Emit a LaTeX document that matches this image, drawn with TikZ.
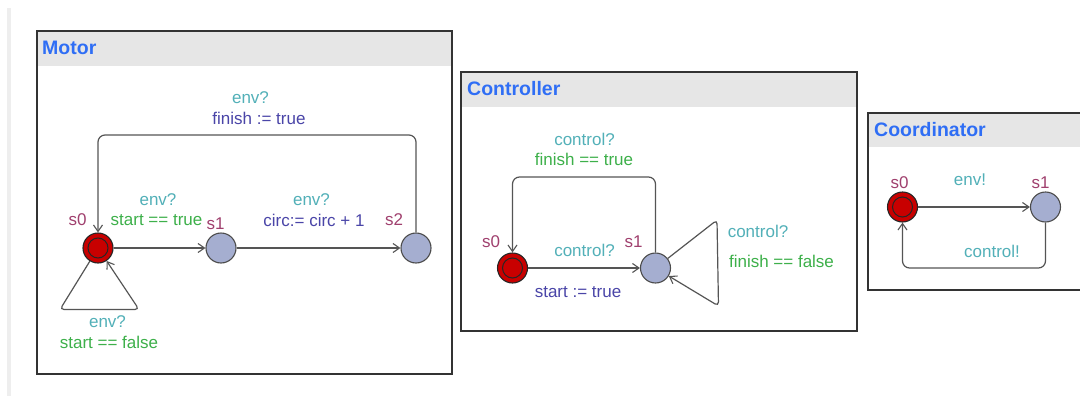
\documentclass[tikz,border=0pt]{standalone}
\usepackage{fontspec}
\setmainfont{Liberation Sans}
\usetikzlibrary{arrows.meta}
\definecolor{chan}{HTML}{52B0B8}
\definecolor{guard}{HTML}{3DB04A}
\definecolor{upd}{HTML}{4A45A8}
\definecolor{locname}{HTML}{A0406E}
\definecolor{titleblue}{HTML}{2F6EF5}
\definecolor{hdr}{HTML}{E6E6E6}
\definecolor{initred}{HTML}{C80000}
\definecolor{statefill}{HTML}{A5AED0}
\definecolor{edgegray}{HTML}{555555}
\definecolor{strip}{HTML}{EEEEEE}
\tikzset{
  lbl/.style={inner sep=0pt, font=\fontsize{17}{19}\selectfont},
  chanlbl/.style={lbl, text=chan},
  guardlbl/.style={lbl, text=guard},
  updlbl/.style={lbl, text=upd},
  namelbl/.style={lbl, text=locname},
  titlelbl/.style={inner sep=0pt, anchor=west, text=titleblue, font=\fontsize{19.5}{21}\selectfont\bfseries},
  state/.style={circle, draw=black!70, fill=statefill, minimum size=30pt, inner sep=0pt, line width=1.1pt},
  initstate/.style={state, fill=initred, draw=black!85,
     path picture={\draw[black!85, line width=1pt] (path picture bounding box.center) circle (10pt);}},
  trans/.style={draw=edgegray, line width=1.2pt, rounded corners=7pt, -{Straight Barb[length=6.5pt,width=9pt,line width=1.1pt]}},
  loopline/.style={draw=edgegray, line width=1.2pt, rounded corners=4pt, -{Straight Barb[length=6.5pt,width=9pt,line width=1.1pt]}},
  boxline/.style={draw=black!80, line width=1.8pt},
  header/.style={fill=hdr}
}
\begin{document}
\begin{tikzpicture}[x=1pt,y=-1pt]
\useasboundingbox (0,0) rectangle (1080,399);
\clip (0,0) rectangle (1080,399);
\fill[white] (0,0) rectangle (1080,399);
\fill[strip] (7,8) rectangle (11,396);

% ===== Motor =====
\fill[header] (37,31) rectangle (452,66);
\draw[boxline] (37,31) rectangle (452,374);
\node[titlelbl] (tmotor) at (42,48) {Motor};

\node[initstate] (ms0) at (98,248) {};
\node[state] (ms1) at (221,248) {};
\node[state] (ms2) at (416,248) {};
\node[namelbl] (nms0) at (77.5,220) {s0};
\node[namelbl] (nms1) at (215.5,224) {s1};
\node[namelbl] (nms2) at (394,220) {s2};

\coordinate (mt2) at (416,135);
\coordinate (mt1) at (98,135);
\draw[trans] (ms2) -- (mt2) -- (mt1) -- (ms0);
\node[chanlbl] (lm1) at (250.5,98) {env?};
\node[updlbl] (lm2) at (259,118) {finish := true};

\draw[trans] (ms0) -- (ms1);
\node[chanlbl] (lm3) at (158,199.5) {env?};
\node[guardlbl] (lm4) at (156.5,220) {start == true};

\draw[trans] (ms1) -- (ms2);
\node[chanlbl] (lm5) at (311.5,199.5) {env?};
\node[updlbl] (lm6) at (314,220) {circ:= circ + 1};

\coordinate (ml1) at (60,309.5);
\coordinate (ml2) at (139,309.5);
\draw[loopline] (ms0) -- (ml1) -- (ml2) -- (ms0);
\node[chanlbl] (lm7) at (107.5,322) {env?};
\node[guardlbl] (lm8) at (109,342) {start == false};

% ===== Controller =====
\fill[header] (461,72) rectangle (857,107);
\draw[boxline] (461,72) rectangle (857,331);
\node[titlelbl] (tctrl) at (467,89) {Controller};

\node[initstate] (cs0) at (512.5,268) {};
\node[state] (cs1) at (655.5,268) {};
\node[namelbl] (ncs0) at (491,242) {s0};
\node[namelbl] (ncs1) at (633.5,242) {s1};

\coordinate (ct1) at (655.5,177);
\coordinate (ct0) at (512.5,177);
\draw[trans] (cs1) -- (ct1) -- (ct0) -- (cs0);
\node[chanlbl] (lc1) at (584.5,139) {control?};
\node[guardlbl] (lc2) at (584,159) {finish == true};

\draw[trans] (cs0) -- (cs1);
\node[chanlbl] (lc3) at (584.5,250) {control?};
\node[updlbl] (lc4) at (578,292.5) {start := true};

\coordinate (cl1) at (717,220);
\coordinate (cl2) at (718.5,306);
\draw[loopline] (cs1) -- (cl1) -- (cl2) -- (cs1);
\node[chanlbl] (lc5) at (758,231) {control?};
\node[guardlbl] (lc6) at (781.5,261) {finish == false};

% ===== Coordinator =====
\fill[header] (868,113) rectangle (1095,147);
\draw[boxline] (868,113) rectangle (1095,290);
\node[titlelbl] (tcoord) at (874,130) {Coordinator};

\node[initstate] (ds0) at (902.5,207) {};
\node[state] (ds1) at (1045.5,207) {};
\node[namelbl] (nds0) at (899.5,182.5) {s0};
\node[namelbl] (nds1) at (1040.5,182.5) {s1};

\draw[trans] (ds0) -- (ds1);
\node[chanlbl] (ld1) at (970,180) {env!};

\coordinate (dt1) at (1045.5,268);
\coordinate (dt0) at (902.5,268);
\draw[trans] (ds1) -- (dt1) -- (dt0) -- (ds0);
\node[chanlbl] (ld2) at (992,251) {control!};
\end{tikzpicture}
\end{document}
